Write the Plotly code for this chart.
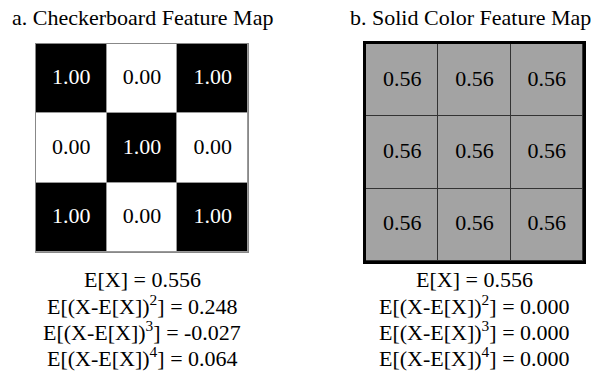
import plotly.graph_objects as go

# ---- data ----
checker_values = [[1.0, 0.0, 1.0],
                  [0.0, 1.0, 0.0],
                  [1.0, 0.0, 1.0]]
solid_values = [[0.56, 0.56, 0.56],
                [0.56, 0.56, 0.56],
                [0.56, 0.56, 0.56]]
col_labels = ["c0", "c1", "c2"]
row_labels = ["r0", "r1", "r2"]
titles = ["a. Checkerboard Feature Map", "b. Solid Color Feature Map"]
checker_stats = ["E[X] = 0.556",
                 "E[(X-E[X])<sup>2</sup>] = 0.248",
                 "E[(X-E[X])<sup>3</sup>] = -0.027",
                 "E[(X-E[X])<sup>4</sup>] = 0.064"]
solid_stats = ["E[X] = 0.556",
               "E[(X-E[X])<sup>2</sup>] = 0.000",
               "E[(X-E[X])<sup>3</sup>] = 0.000",
               "E[(X-E[X])<sup>4</sup>] = 0.000"]

# page body has an 8px margin, so the figure is placed at (8, 8)
OFF = 8
W, H = 600 - OFF, 377 - OFF
FONT = "Liberation Serif, Times New Roman, serif"

def px_x(v):
    return (v - OFF) / W

def px_y(v):
    return 1 - (v - OFF) / H

fig = go.Figure()

def add_map(values, colorscale, xa, ya):
    fig.add_trace(go.Heatmap(
        z=values, x=col_labels, y=row_labels,
        colorscale=colorscale, zmin=0, zmax=1,
        showscale=False, xgap=1, ygap=1,
        xaxis=xa, yaxis=ya, hoverinfo="skip"))
    xs, ys, txt, cols = [], [], [], []
    for r, row in enumerate(values):
        for c, v in enumerate(row):
            xs.append(col_labels[c])
            ys.append(row_labels[r])
            txt.append(f"{v:.2f}")
            cols.append("white" if v > 0.8 else "black")
    fig.add_trace(go.Scatter(
        x=xs, y=ys, text=txt, mode="text",
        textfont=dict(family=FONT, size=22, color=cols),
        xaxis=xa, yaxis=ya, hoverinfo="skip", showlegend=False))

add_map(checker_values, [[0, "white"], [1, "black"]], "x", "y")
add_map(solid_values, [[0, "#a3a3a3"], [1, "#a3a3a3"]], "x2", "y2")

ax_common = dict(showticklabels=False, ticks="", showgrid=False, zeroline=False,
                 mirror=True, showline=True)

fig.update_layout(
    width=W, height=H,
    margin=dict(l=0, r=0, t=0, b=0),
    paper_bgcolor="white", plot_bgcolor="white",
    font=dict(family=FONT, size=22, color="black"),
    showlegend=False,
    xaxis=dict(domain=[px_x(36), px_x(248)], anchor="y",
               linecolor="#888", linewidth=1, **ax_common),
    yaxis=dict(domain=[px_y(252), px_y(44)], anchor="x", autorange="reversed",
               linecolor="#888", linewidth=1, **ax_common),
    xaxis2=dict(domain=[px_x(366), px_x(583)], anchor="y2",
                linecolor="black", linewidth=3, **ax_common),
    yaxis2=dict(domain=[px_y(261), px_y(44)], anchor="x2", autorange="reversed",
                linecolor="black", linewidth=3, **ax_common),
)

# background under cells so the gaps show as grid lines
fig.add_shape(type="rect", xref="x domain", yref="y domain", x0=0, x1=1, y0=0, y1=1,
              fillcolor="#999", line_width=0, layer="below")
fig.add_shape(type="rect", xref="x2 domain", yref="y2 domain", x0=0, x1=1, y0=0, y1=1,
              fillcolor="#333", line_width=0, layer="below")

title_centers = [px_x(142), px_x(470)]
for cx, title in zip(title_centers, titles):
    fig.add_annotation(text=title, x=cx, y=px_y(17), xref="paper", yref="paper",
                       showarrow=False, xanchor="center", yanchor="middle",
                       font=dict(family=FONT, size=22))

centers = [px_x(142), px_x(474)]
line_y = [279, 305, 331, 357]
for cx, stats in zip(centers, [checker_stats, solid_stats]):
    for ly, s in zip(line_y, stats):
        fig.add_annotation(text=s, x=cx, y=px_y(ly), xref="paper", yref="paper",
                           showarrow=False, xanchor="center", yanchor="middle",
                           font=dict(family=FONT, size=22))

fig.write_html("out.html")
